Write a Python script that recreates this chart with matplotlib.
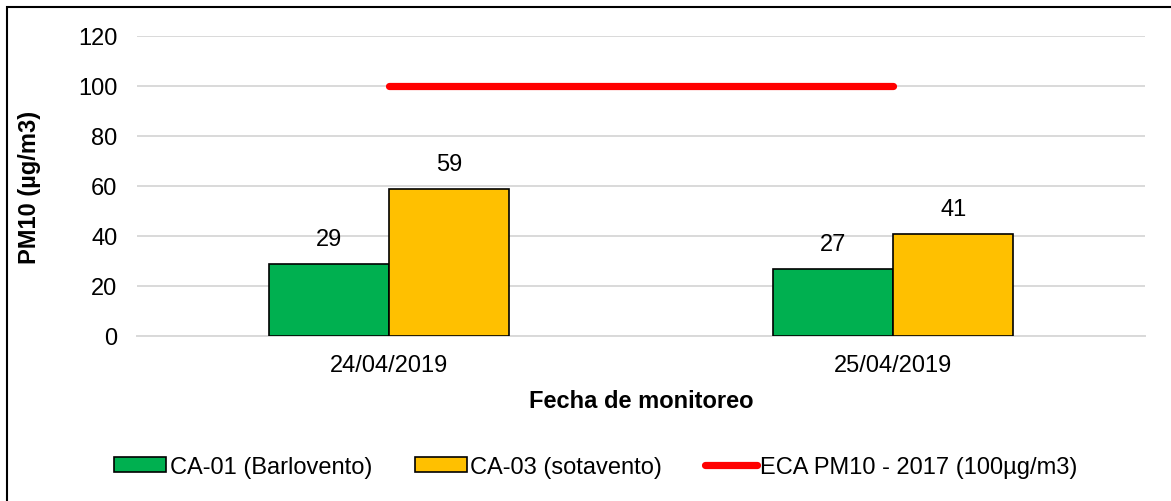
import numpy as np
import matplotlib
matplotlib.use('Agg')
import matplotlib.pyplot as plt
from matplotlib.patches import Rectangle

# data
fechas = ['24/04/2019', '25/04/2019']
ca01 = [29, 27]
ca03 = [59, 41]
eca = [100, 100]

plt.rcParams['font.family'] = ['Liberation Sans', 'DejaVu Sans']
fs = 17

fig = plt.figure(figsize=(11.71, 5.02), dpi=100)
ax = fig.add_axes([137/1171, 1 - 337/502, (1145 - 137)/1171, 300/502])

x = np.arange(len(fechas))
w = 0.239
b1 = ax.bar(x - w/2, ca01, w, color='#00B050', edgecolor='black', linewidth=1.2,
            label='CA-01 (Barlovento)', zorder=3)
b2 = ax.bar(x + w/2, ca03, w, color='#FFC000', edgecolor='black', linewidth=1.2,
            label='CA-03 (sotavento)', zorder=3)
ln, = ax.plot(x, eca, color='#FF0000', lw=5.2, solid_capstyle='round',
              label='ECA PM10 - 2017 (100µg/m3)', zorder=4)

for bars in (b1, b2):
    for r in bars:
        ax.annotate(f'{r.get_height():.0f}', (r.get_x() + r.get_width()/2, r.get_height()),
                    xytext=(0, 10), textcoords='offset points',
                    ha='center', va='bottom', fontsize=fs)

ax.set_xlim(-0.5, 1.5)
ax.set_ylim(0, 120)
ax.set_yticks(range(0, 121, 20))
ax.set_xticks(x)
ax.set_xticklabels(fechas)
ax.tick_params(axis='both', length=0, labelsize=fs)
ax.tick_params(axis='y', pad=14)
ax.tick_params(axis='x', pad=13)
ax.grid(axis='y', color='#d9d9d9', lw=1.4, zorder=0)
for s in ['top', 'right', 'left']:
    ax.spines[s].set_visible(False)
ax.spines['bottom'].set_color('#d9d9d9')
ax.spines['bottom'].set_linewidth(1.4)

ax.set_xlabel('Fecha de monitoreo', fontsize=fs, fontweight='bold', labelpad=9)
fig.text(30/1171, 1 - 187/502, 'PM10 (µg/m3)', rotation=90, ha='center', va='center',
         fontsize=fs, fontweight='bold')

fig.legend(handles=[b1, b2, ln], loc='center', bbox_to_anchor=(596/1171, 1 - 468/502),
           ncol=3, frameon=False, fontsize=fs, handlelength=2.2, handleheight=0.6,
           handletextpad=0.15, columnspacing=1.8)

fig.patches.append(Rectangle((7/1171, -0.1), 2, 1.1 - 8/502, transform=fig.transFigure,
                             fill=False, edgecolor='black', lw=1.5))

fig.savefig('out.png', dpi=100)
